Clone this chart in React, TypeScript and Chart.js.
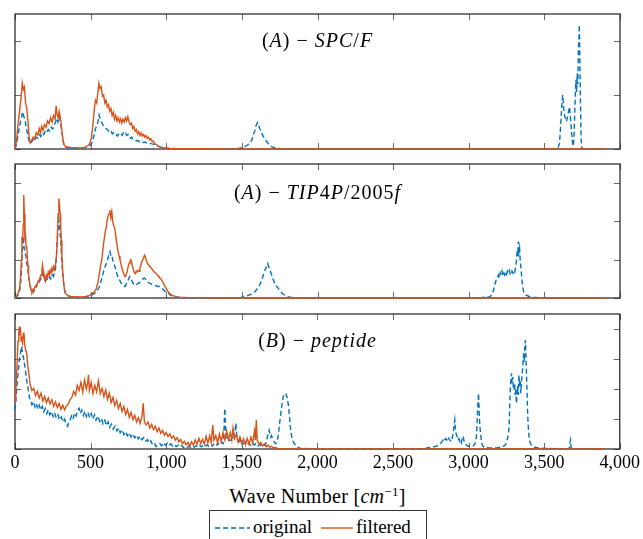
import React, { useEffect, useRef } from "react";
import { Chart, registerables } from "chart.js";

Chart.register(...registerables);

const BLUE = "#0072BD";
const ORANGE = "#D95319";
const SERIF = '"Liberation Serif", "Times New Roman", serif';

const xTickValues = [0, 500, 1000, 1500, 2000, 2500, 3000, 3500, 4000];
const spcYTicks = [0, 1, 2];
const tipYTicks = [0, 1, 2, 3];
const pepYTicks = [0, 1, 2, 3, 4];

type Pt = [number, number];

// (A) SPC/F
const spcOriginal: Pt[] = [[0,0],[10,0.08],[20,0.25],[30,0.42],[40,0.55],[50,0.69],[58,0.6],[66,0.55],[74,0.4],[82,0.3],[90,0.18],[100,0.1],[110,0.13],[120,0.18],[130,0.15],[140,0.22],[150,0.2],[160,0.27],[170,0.23],[180,0.3],[190,0.27],[200,0.33],[210,0.3],[220,0.36],[230,0.33],[240,0.4],[250,0.37],[260,0.45],[268,0.5],[276,0.57],[284,0.5],[292,0.6],[300,0.52],[308,0.35],[316,0.18],[324,0.07],[335,0.03],[360,0.02],[400,0.01],[440,0.02],[470,0.03],[495,0.06],[510,0.12],[522,0.25],[532,0.38],[540,0.42],[548,0.5],[556,0.63],[564,0.55],[572,0.5],[580,0.45],[588,0.42],[596,0.4],[604,0.38],[612,0.35],[620,0.33],[628,0.3],[636,0.32],[644,0.28],[652,0.3],[660,0.26],[668,0.27],[676,0.24],[684,0.27],[692,0.25],[700,0.28],[708,0.25],[716,0.3],[724,0.27],[732,0.29],[740,0.25],[748,0.27],[756,0.22],[764,0.2],[772,0.22],[780,0.18],[790,0.17],[800,0.15],[810,0.16],[820,0.14],[830,0.13],[840,0.14],[850,0.12],[860,0.13],[870,0.11],[880,0.12],[890,0.11],[900,0.1],[912,0.09],[924,0.08],[936,0.07],[948,0.05],[960,0.04],[975,0.03],[990,0.02],[1020,0.01],[1100,0.005],[1200,0],[1400,0],[1480,0.01],[1510,0.03],[1530,0.06],[1550,0.1],[1565,0.16],[1575,0.27],[1585,0.33],[1592,0.42],[1598,0.46],[1604,0.49],[1610,0.44],[1618,0.38],[1626,0.34],[1634,0.28],[1642,0.23],[1652,0.18],[1664,0.14],[1676,0.09],[1688,0.06],[1700,0.04],[1720,0.02],[1750,0.01],[1800,0],[2500,0],[3400,0],[3550,0],[3590,0.02],[3600,0.1],[3608,0.45],[3615,0.8],[3621,1.0],[3628,0.75],[3635,0.6],[3642,0.55],[3647,0.51],[3654,0.62],[3660,0.7],[3666,0.78],[3672,0.6],[3680,0.3],[3687,0.1],[3691,0.05],[3697,0.3],[3702,0.8],[3706,1.1],[3709,1.28],[3713,1.05],[3717,1.4],[3721,1.2],[3725,1.8],[3729,2.1],[3731,2.3],[3735,1.6],[3739,0.8],[3743,0.2],[3747,0.02],[3760,0],[3900,0]];
const spcFiltered: Pt[] = [[0,0],[10,0.15],[20,0.45],[30,0.7],[40,0.95],[48,1.22],[55,1.1],[62,1.15],[70,0.85],[78,0.75],[86,0.5],[94,0.2],[100,0.11],[110,0.16],[120,0.22],[130,0.18],[140,0.3],[150,0.26],[160,0.38],[168,0.3],[176,0.42],[185,0.35],[195,0.45],[205,0.4],[215,0.52],[225,0.47],[235,0.58],[245,0.5],[255,0.62],[265,0.55],[272,0.8],[278,0.65],[285,0.58],[292,0.7],[298,0.62],[306,0.45],[314,0.25],[322,0.1],[332,0.05],[345,0.04],[370,0.03],[400,0.02],[430,0.02],[460,0.03],[480,0.06],[495,0.1],[505,0.2],[515,0.45],[525,0.75],[532,0.9],[540,0.85],[548,1.05],[555,1.22],[562,1.12],[570,1.15],[578,0.98],[586,1.0],[594,0.85],[602,0.9],[610,0.78],[618,0.82],[626,0.7],[634,0.75],[642,0.62],[650,0.68],[658,0.55],[666,0.62],[674,0.52],[682,0.58],[690,0.5],[698,0.56],[706,0.48],[714,0.55],[722,0.5],[730,0.58],[738,0.52],[746,0.6],[754,0.5],[762,0.45],[770,0.48],[778,0.38],[786,0.42],[794,0.33],[802,0.36],[810,0.28],[818,0.32],[826,0.25],[834,0.3],[842,0.24],[850,0.27],[858,0.22],[866,0.25],[874,0.2],[882,0.22],[890,0.17],[898,0.19],[906,0.14],[914,0.15],[924,0.1],[934,0.08],[944,0.06],[956,0.04],[970,0.03],[990,0.02],[1020,0.01],[1100,0.005],[1500,0],[2000,0],[2500,0],[3000,0],[3500,0],[3900,0]];

// (A) TIP4P/2005f
const tipOriginal: Pt[] = [[0,0],[10,0.03],[20,0.08],[30,0.18],[38,0.4],[44,0.8],[48,1.2],[52,1.45],[56,1.6],[60,1.3],[64,1.25],[68,1.15],[72,1.1],[76,0.95],[80,0.85],[86,0.7],[92,0.5],[98,0.4],[104,0.25],[110,0.17],[116,0.2],[122,0.16],[128,0.25],[134,0.3],[140,0.28],[146,0.35],[152,0.4],[158,0.38],[164,0.45],[170,0.5],[176,0.55],[182,0.64],[188,0.55],[194,0.48],[200,0.45],[206,0.47],[212,0.5],[218,0.46],[224,0.52],[230,0.55],[236,0.5],[242,0.58],[248,0.6],[254,0.56],[260,0.65],[266,0.7],[272,0.95],[278,1.4],[284,1.8],[290,2.04],[294,1.9],[298,1.7],[302,1.5],[306,1.2],[310,0.9],[316,0.6],[322,0.38],[328,0.2],[334,0.12],[342,0.08],[355,0.05],[380,0.03],[420,0.02],[460,0.03],[490,0.05],[510,0.08],[530,0.13],[545,0.2],[556,0.28],[566,0.4],[576,0.55],[586,0.7],[596,0.82],[604,0.9],[612,1.0],[618,1.1],[624,1.15],[628,1.21],[634,1.1],[640,1.12],[646,1.0],[652,0.92],[658,0.85],[664,0.78],[670,0.68],[676,0.6],[682,0.55],[688,0.5],[694,0.45],[700,0.4],[708,0.36],[716,0.33],[724,0.3],[730,0.31],[738,0.38],[746,0.45],[752,0.5],[758,0.56],[764,0.52],[770,0.48],[776,0.42],[782,0.38],[790,0.35],[798,0.33],[806,0.36],[814,0.38],[822,0.4],[830,0.44],[838,0.46],[846,0.5],[854,0.52],[860,0.51],[868,0.46],[876,0.42],[884,0.4],[892,0.38],[900,0.37],[908,0.35],[916,0.34],[924,0.33],[932,0.32],[940,0.31],[948,0.3],[956,0.3],[964,0.28],[972,0.25],[980,0.22],[990,0.18],[1003,0.16],[1015,0.12],[1030,0.07],[1045,0.05],[1058,0.03],[1080,0.02],[1120,0.01],[1300,0],[1450,0],[1490,0.01],[1510,0.03],[1530,0.05],[1550,0.08],[1565,0.1],[1575,0.12],[1590,0.18],[1605,0.26],[1618,0.35],[1630,0.45],[1642,0.6],[1652,0.72],[1660,0.8],[1666,0.85],[1671,0.9],[1676,0.82],[1682,0.78],[1690,0.68],[1697,0.6],[1705,0.5],[1715,0.4],[1727,0.32],[1741,0.25],[1755,0.17],[1770,0.11],[1785,0.07],[1800,0.04],[1818,0.02],[1850,0.01],[1900,0],[2500,0],[3000,0],[3080,0.01],[3110,0.02],[3140,0.03],[3155,0.1],[3165,0.22],[3174,0.38],[3182,0.48],[3190,0.55],[3196,0.6],[3202,0.52],[3208,0.66],[3214,0.6],[3220,0.7],[3226,0.58],[3232,0.65],[3238,0.6],[3244,0.68],[3250,0.62],[3256,0.7],[3262,0.65],[3268,0.72],[3274,0.62],[3280,0.6],[3286,0.7],[3292,0.65],[3298,0.72],[3304,0.68],[3310,0.8],[3316,1.0],[3320,1.25],[3324,1.1],[3328,1.47],[3332,1.2],[3336,1.3],[3340,1.0],[3345,0.8],[3350,0.55],[3356,0.3],[3364,0.15],[3372,0.1],[3383,0.07],[3400,0.04],[3427,0.02],[3460,0.01],[3500,0.01],[3600,0],[3900,0]];
const tipFiltered: Pt[] = [[0,0],[10,0.05],[20,0.12],[30,0.25],[36,0.5],[42,1.0],[46,1.6],[50,1.45],[54,1.9],[58,2.69],[62,2.2],[66,1.5],[70,1.6],[74,1.3],[78,1.35],[82,1.0],[86,0.85],[90,0.6],[95,0.45],[100,0.3],[106,0.2],[112,0.15],[118,0.22],[124,0.18],[130,0.28],[136,0.32],[142,0.3],[148,0.38],[154,0.45],[160,0.42],[166,0.55],[172,0.6],[178,0.75],[182,0.86],[186,0.7],[190,0.62],[194,0.5],[198,0.52],[202,0.45],[208,0.6],[214,0.55],[220,0.68],[226,0.6],[232,0.72],[238,0.65],[244,0.78],[250,0.7],[256,0.82],[262,0.75],[268,0.88],[274,1.1],[280,1.6],[285,2.2],[290,2.6],[294,2.45],[298,2.2],[302,1.9],[306,1.5],[310,1.1],[315,0.75],[320,0.45],[326,0.25],[332,0.14],[340,0.09],[350,0.06],[370,0.04],[400,0.03],[440,0.03],[470,0.04],[490,0.06],[505,0.1],[520,0.14],[535,0.22],[548,0.4],[558,0.65],[566,0.85],[574,1.0],[582,1.3],[590,1.55],[598,1.75],[604,1.86],[610,2.05],[616,2.15],[622,2.2],[628,2.3],[634,2.1],[640,2.25],[646,2.0],[652,1.9],[658,1.85],[664,1.7],[670,1.5],[676,1.35],[682,1.2],[688,1.1],[694,1.0],[700,0.9],[706,0.8],[712,0.72],[718,0.64],[724,0.58],[730,0.56],[736,0.62],[742,0.7],[748,0.82],[754,0.9],[760,0.96],[766,1.0],[772,0.92],[778,0.8],[784,0.72],[790,0.66],[796,0.64],[802,0.7],[808,0.68],[814,0.72],[820,0.7],[826,0.78],[832,0.85],[838,0.95],[844,1.0],[850,1.05],[856,1.12],[862,1.08],[868,0.98],[874,0.92],[880,0.88],[886,0.85],[892,0.82],[898,0.8],[904,0.76],[910,0.74],[916,0.7],[922,0.68],[928,0.66],[934,0.64],[940,0.6],[946,0.58],[952,0.55],[958,0.52],[964,0.5],[970,0.47],[976,0.42],[982,0.38],[988,0.33],[994,0.28],[1000,0.25],[1010,0.18],[1020,0.13],[1030,0.09],[1040,0.07],[1055,0.05],[1070,0.03],[1091,0.02],[1150,0.01],[1300,0],[2000,0],[3000,0],[3900,0]];

// (B) peptide
const pepOriginal: Pt[] = [[0,1.3],[5,1.6],[10,1.9],[16,2.3],[22,2.6],[28,2.95],[34,3.1],[39,3.3],[44,3.41],[50,3.15],[56,3.05],[62,2.85],[68,2.7],[74,2.4],[80,2.2],[88,1.97],[96,1.7],[104,1.62],[112,1.48],[122,1.58],[132,1.4],[142,1.52],[150,1.33],[160,1.46],[170,1.3],[180,1.42],[190,1.24],[200,1.35],[210,1.18],[220,1.31],[230,1.14],[240,1.25],[252,1.08],[262,1.21],[272,1.04],[284,1.14],[294,0.97],[306,1.07],[318,0.9],[328,0.99],[338,0.84],[348,0.76],[356,0.9],[364,0.96],[374,1.1],[384,1.0],[394,1.2],[404,1.1],[414,1.3],[424,1.36],[432,1.18],[442,1.3],[452,1.12],[462,1.26],[472,1.08],[482,1.22],[494,1.04],[504,1.18],[514,1.0],[526,1.14],[536,0.96],[548,1.1],[560,0.92],[572,1.02],[582,0.84],[594,0.96],[604,0.78],[616,0.9],[626,0.72],[638,0.83],[650,0.66],[662,0.76],[674,0.6],[686,0.7],[696,0.54],[708,0.64],[720,0.48],[732,0.58],[744,0.44],[756,0.54],[768,0.4],[780,0.5],[792,0.37],[804,0.46],[816,0.34],[828,0.43],[840,0.31],[852,0.38],[864,0.26],[876,0.31],[888,0.2],[898,0.27],[910,0.14],[922,0.19],[934,0.08],[946,0.13],[958,0.18],[970,0.11],[982,0.21],[994,0.13],[1006,0.19],[1018,0.11],[1030,0.17],[1042,0.1],[1054,0.15],[1066,0.08],[1078,0.13],[1090,0.07],[1102,0.12],[1114,0.05],[1126,0.1],[1138,0.05],[1150,0.09],[1162,0.05],[1174,0.1],[1186,0.06],[1198,0.11],[1210,0.06],[1222,0.12],[1234,0.07],[1246,0.13],[1258,0.08],[1270,0.14],[1282,0.09],[1294,0.16],[1306,0.1],[1318,0.18],[1330,0.11],[1342,0.2],[1354,0.13],[1366,0.22],[1376,0.18],[1382,0.55],[1386,1.2],[1388,1.36],[1391,0.9],[1395,0.45],[1399,0.3],[1411,0.38],[1423,0.22],[1435,0.4],[1447,0.32],[1455,0.55],[1461,0.86],[1467,0.45],[1476,0.3],[1487,0.25],[1499,0.3],[1511,0.18],[1523,0.24],[1535,0.14],[1547,0.2],[1559,0.13],[1571,0.21],[1583,0.13],[1595,0.18],[1607,0.1],[1619,0.16],[1631,0.09],[1643,0.14],[1655,0.12],[1663,0.25],[1670,0.42],[1676,0.55],[1681,0.63],[1686,0.5],[1691,0.4],[1697,0.45],[1702,0.35],[1708,0.3],[1714,0.25],[1720,0.2],[1726,0.18],[1732,0.22],[1738,0.35],[1744,0.55],[1750,0.85],[1756,1.1],[1762,1.35],[1768,1.55],[1774,1.74],[1780,1.8],[1786,1.86],[1792,1.84],[1798,1.75],[1804,1.6],[1810,1.4],[1816,1.05],[1821,0.74],[1827,0.5],[1833,0.35],[1840,0.25],[1847,0.19],[1855,0.12],[1865,0.07],[1875,0.05],[1884,0.03],[1900,0.02],[1950,0.01],[2050,0],[2600,0],[2700,0.01],[2744,0.05],[2770,0.07],[2790,0.1],[2799,0.12],[2810,0.15],[2820,0.22],[2832,0.3],[2840,0.25],[2848,0.35],[2856,0.3],[2865,0.41],[2872,0.32],[2880,0.28],[2887,0.25],[2893,0.4],[2898,0.5],[2903,0.75],[2909,0.97],[2914,0.6],[2918,0.5],[2925,0.41],[2930,0.3],[2936,0.35],[2942,0.25],[2948,0.3],[2953,0.22],[2958,0.35],[2964,0.43],[2969,0.3],[2975,0.2],[2980,0.18],[2986,0.13],[2995,0.1],[3005,0.09],[3019,0.08],[3030,0.1],[3040,0.15],[3047,0.25],[3052,0.41],[3056,0.8],[3060,1.3],[3063,1.6],[3066,1.86],[3069,1.4],[3073,0.9],[3079,0.52],[3084,0.3],[3090,0.15],[3097,0.08],[3110,0.05],[3130,0.04],[3163,0.03],[3190,0.04],[3210,0.06],[3225,0.08],[3240,0.12],[3250,0.2],[3258,0.35],[3264,0.55],[3268,0.74],[3272,1.4],[3276,2.0],[3280,2.3],[3284,2.52],[3288,2.2],[3292,2.4],[3296,2.05],[3300,1.97],[3304,2.2],[3308,1.8],[3312,2.0],[3317,1.52],[3321,1.9],[3325,2.1],[3329,1.8],[3333,2.47],[3337,2.1],[3341,2.3],[3346,1.86],[3350,2.2],[3354,2.5],[3358,2.7],[3361,2.97],[3365,3.2],[3368,2.9],[3372,3.4],[3376,3.63],[3379,3.2],[3382,2.7],[3385,2.2],[3387,1.86],[3390,1.3],[3394,0.8],[3400,0.41],[3407,0.22],[3415,0.12],[3427,0.08],[3445,0.05],[3471,0.03],[3520,0.02],[3600,0.01],[3660,0.01],[3668,0.05],[3672,0.25],[3674,0.3],[3677,0.1],[3682,0.01],[3750,0],[3900,0]];
const pepFiltered: Pt[] = [[0,1.6],[5,1.9],[10,2.4],[15,3.0],[20,3.6],[25,3.9],[29,4.08],[33,3.8],[37,3.9],[41,3.6],[45,3.75],[50,3.55],[55,3.85],[59,3.88],[64,3.5],[70,3.3],[77,3.2],[84,2.8],[92,2.5],[100,2.15],[112,1.95],[124,2.02],[136,1.78],[148,1.92],[160,1.7],[172,1.86],[184,1.6],[196,1.76],[208,1.54],[220,1.7],[232,1.5],[244,1.64],[256,1.42],[268,1.57],[280,1.38],[292,1.52],[304,1.32],[316,1.46],[328,1.3],[340,1.44],[352,1.5],[364,1.65],[376,1.72],[388,1.92],[400,1.8],[412,2.12],[424,1.95],[436,2.22],[448,1.9],[460,2.3],[472,2.0],[480,2.18],[486,2.47],[492,1.95],[504,2.22],[516,1.85],[528,2.12],[540,1.9],[552,2.27],[564,1.85],[576,2.02],[588,1.75],[600,1.97],[612,1.65],[624,1.86],[636,1.55],[648,1.72],[660,1.45],[672,1.62],[684,1.35],[696,1.52],[708,1.25],[720,1.42],[732,1.15],[744,1.32],[756,1.05],[768,1.22],[780,0.98],[792,1.12],[804,0.9],[816,1.04],[828,0.85],[840,1.1],[848,1.52],[856,0.9],[868,0.8],[880,0.9],[892,0.7],[904,0.82],[916,0.64],[928,0.76],[940,0.58],[952,0.7],[964,0.52],[976,0.62],[988,0.46],[1000,0.55],[1012,0.42],[1024,0.5],[1036,0.36],[1048,0.44],[1060,0.3],[1072,0.38],[1084,0.24],[1096,0.32],[1108,0.18],[1120,0.26],[1132,0.14],[1144,0.22],[1156,0.1],[1168,0.24],[1180,0.13],[1192,0.3],[1204,0.16],[1216,0.36],[1228,0.18],[1240,0.32],[1252,0.16],[1264,0.42],[1276,0.2],[1288,0.45],[1298,0.22],[1308,0.8],[1316,0.3],[1328,0.45],[1340,0.2],[1352,0.5],[1364,0.25],[1376,0.55],[1388,0.3],[1400,0.6],[1412,0.32],[1424,0.55],[1434,0.3],[1442,0.7],[1452,0.35],[1464,0.48],[1476,0.22],[1488,0.4],[1500,0.18],[1512,0.34],[1524,0.14],[1536,0.35],[1548,0.16],[1560,0.4],[1572,0.2],[1584,0.6],[1590,0.3],[1596,0.97],[1602,0.3],[1614,0.16],[1626,0.22],[1638,0.1],[1650,0.17],[1662,0.08],[1674,0.13],[1686,0.06],[1698,0.09],[1710,0.03],[1722,0.05],[1735,0.02],[1750,0.01],[1780,0],[2500,0],[3000,0],[3900,0]];

type PanelDef = {
  top: number;
  height: number;
  padTop: number;
  padBottom: number;
  xAxisHeight: number;
  yMax: number;
  yTicks: number[];
  original: Pt[];
  filtered: Pt[];
  showX: boolean;
};

const panelDefs: PanelDef[] = [
  { top: 0, height: 160, padTop: 14, padBottom: 11, xAxisHeight: 0, yMax: 2.5, yTicks: spcYTicks, original: spcOriginal, filtered: spcFiltered, showX: false },
  { top: 160, height: 145, padTop: 4, padBottom: 7, xAxisHeight: 0, yMax: 3.5, yTicks: tipYTicks, original: tipOriginal, filtered: tipFiltered, showX: false },
  { top: 305, height: 175, padTop: 9, padBottom: 0, xAxisHeight: 31, yMax: 4.5, yTicks: pepYTicks, original: pepOriginal, filtered: pepFiltered, showX: true },
];

const framePlugin = {
  id: "frameTicks",
  beforeDatasetsDraw(chart: any) {
    const { ctx, chartArea: a, scales } = chart;
    const len = 6;
    ctx.save();
    ctx.strokeStyle = "#6a6a6a";
    ctx.lineWidth = 1;
    ctx.beginPath();
    for (const t of scales.x.ticks) {
      const px = Math.round(scales.x.getPixelForValue(t.value)) + 0.5;
      ctx.moveTo(px, a.top);
      ctx.lineTo(px, a.top + len);
      ctx.moveTo(px, a.bottom);
      ctx.lineTo(px, a.bottom - len);
    }
    for (const t of scales.y.ticks) {
      const py = Math.round(scales.y.getPixelForValue(t.value)) + 0.5;
      ctx.moveTo(a.left, py);
      ctx.lineTo(a.left + len, py);
      ctx.moveTo(a.right, py);
      ctx.lineTo(a.right - len, py);
    }
    ctx.stroke();
    ctx.strokeStyle = "#1e1e1e";
    ctx.lineWidth = 1.2;
    ctx.strokeRect(a.left, a.top, a.right - a.left, a.bottom - a.top);
    ctx.restore();
  },
};

function Panel({ def }: { def: PanelDef }) {
  const ref = useRef<HTMLCanvasElement | null>(null);
  useEffect(() => {
    if (!ref.current) return;
    const chart = new Chart(ref.current, {
      type: "line",
      data: {
        datasets: [
          {
            label: "original",
            data: def.original.map(([x, y]) => ({ x, y })),
            borderColor: BLUE,
            borderWidth: 1.4,
            borderDash: [5, 3],
            pointRadius: 0,
            fill: false,
            order: 2,
            clip: false as any,
          },
          {
            label: "filtered",
            data: def.filtered.map(([x, y]) => ({ x, y })),
            borderColor: ORANGE,
            borderWidth: 1.4,
            pointRadius: 0,
            fill: false,
            order: 1,
            clip: false as any,
          },
        ],
      },
      options: {
        responsive: false,
        maintainAspectRatio: false,
        animation: false,
        layout: { padding: { left: 15, right: 23, top: def.padTop, bottom: def.padBottom } },
        plugins: { legend: { display: false }, tooltip: { enabled: false }, title: { display: false } },
        elements: { line: { tension: 0 }, point: { radius: 0 } },
        scales: {
          x: {
            type: "linear",
            min: 0,
            max: 4000,
            afterBuildTicks: (s: any) => {
              s.ticks = xTickValues.map((v) => ({ value: v }));
            },
            afterFit: (s: any) => {
              s.height = def.xAxisHeight;
            },
            ticks: {
              display: def.showX,
              autoSkip: false,
              maxRotation: 0,
              padding: 3,
              color: "#000",
              font: { family: SERIF, size: 18 },
              callback: (v: any) => Number(v).toLocaleString("en-US"),
            },
            grid: { display: false, drawTicks: false },
            border: { display: false },
          },
          y: {
            type: "linear",
            min: 0,
            max: def.yMax,
            afterBuildTicks: (s: any) => {
              s.ticks = def.yTicks.map((v) => ({ value: v }));
            },
            afterFit: (s: any) => {
              s.width = 0;
            },
            ticks: { display: false },
            grid: { display: false, drawTicks: false },
            border: { display: false },
          },
        },
      } as any,
      plugins: [framePlugin],
    });
    return () => chart.destroy();
  }, [def]);
  return (
    <canvas
      ref={ref}
      width={643}
      height={def.height}
      style={{ position: "absolute", left: 0, top: def.top, width: 643, height: def.height }}
    />
  );
}

const mathText: React.CSSProperties = {
  position: "absolute",
  left: 15,
  width: 605,
  textAlign: "center",
  fontFamily: SERIF,
  fontSize: 20,
  lineHeight: "20px",
  letterSpacing: "1px",
  color: "#000",
  whiteSpace: "nowrap",
};

export default function App() {
  return (
    <div
      style={{
        position: "absolute",
        left: 0,
        top: 0,
        width: 643,
        height: 539,
        background: "#fff",
        overflow: "hidden",
      }}
    >
      {panelDefs.map((d, i) => (
        <Panel key={i} def={d} />
      ))}
      <div style={{ ...mathText, top: 30 }}>
        (<i>A</i>) − <i>SPC</i>/<i>F</i>
      </div>
      <div style={{ ...mathText, top: 182 }}>
        (<i>A</i>) − <i>TIP</i>4<i>P</i>/2005<i>f</i>
      </div>
      <div style={{ ...mathText, top: 330 }}>
        (<i>B</i>) − <i>peptide</i>
      </div>
      <div style={{ ...mathText, top: 486, letterSpacing: "0.3px" }}>
        Wave Number [<i>cm</i>
        <sup style={{ fontSize: 13, verticalAlign: "7px", lineHeight: 0 }}>−1</sup>]
      </div>
      <div
        style={{
          position: "absolute",
          left: 209,
          top: 510,
          width: 216,
          height: 40,
          border: "1px solid #333",
          fontFamily: SERIF,
          fontSize: 19,
          lineHeight: "19px",
        }}
      >
        <svg style={{ position: "absolute", left: 5, top: 14 }} width={35} height={6}>
          <line x1={0} y1={3} x2={35} y2={3} stroke={BLUE} strokeWidth={1.4} strokeDasharray="5 3" />
        </svg>
        <span style={{ position: "absolute", left: 43, top: 6 }}>original</span>
        <svg style={{ position: "absolute", left: 111, top: 14 }} width={32} height={6}>
          <line x1={0} y1={3} x2={32} y2={3} stroke={ORANGE} strokeWidth={1.4} />
        </svg>
        <span style={{ position: "absolute", left: 146, top: 6 }}>filtered</span>
      </div>
    </div>
  );
}
